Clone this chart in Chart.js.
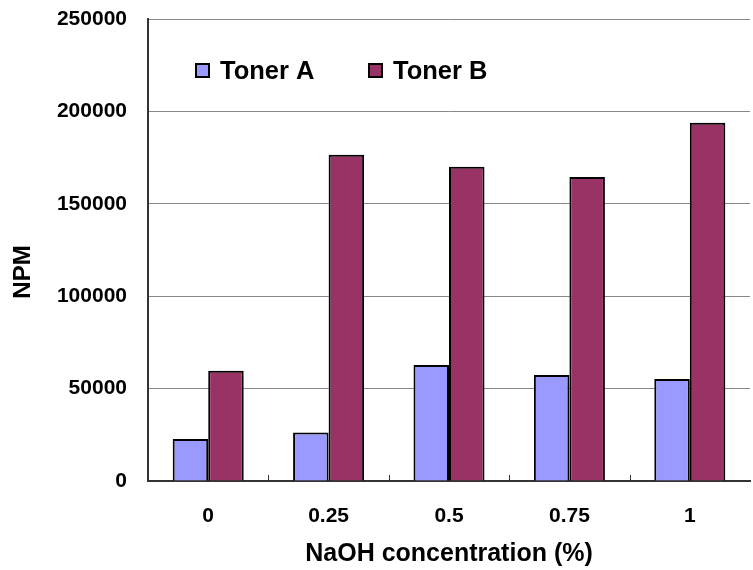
<!DOCTYPE html>
<html>
<head>
<meta charset="utf-8">
<script src="https://cdn.jsdelivr.net/npm/chart.js@4/dist/chart.umd.min.js"></script>
<style>
  html, body { margin: 0; padding: 0; background: #fff; }
  #wrap { width: 753px; height: 570px; }
</style>
</head>
<body>
<div id="wrap"><canvas id="npmChart" width="753" height="570"></canvas></div>
<script>
// NaOH concentration (%) categories
const concentrations = ['0', '0.25', '0.5', '0.75', '1'];
// NPM values
const tonerA = [22700, 26200, 62800, 57400, 55200];
const tonerB = [59700, 176600, 170100, 164500, 193900];
const yTicks = [0, 50000, 100000, 150000, 200000, 250000];

const FONT = "'Liberation Sans', Arial, sans-serif";

// legend drawn inside the plot area, like the original
const insideLegend = {
  id: 'insideLegend',
  afterDraw(chart) {
    const ctx = chart.ctx;
    const spots = [{ box: 196, text: 220 }, { box: 369, text: 393 }];
    ctx.save();
    ctx.font = 'bold 25.5px ' + FONT;
    ctx.textBaseline = 'middle';
    chart.data.datasets.forEach((ds, i) => {
      const s = spots[i];
      ctx.fillStyle = ds.backgroundColor;
      ctx.fillRect(s.box, 64, 13, 13);
      ctx.lineWidth = 2;
      ctx.strokeStyle = '#000';
      ctx.strokeRect(s.box, 64, 13, 13);
      ctx.fillStyle = '#000';
      ctx.fillText(ds.label, s.text, 72);
    });
    ctx.restore();
  }
};

// small inward tick marks between categories on the x axis
const catTicks = {
  id: 'catTicks',
  afterDraw(chart) {
    const x = chart.scales.x;
    const ctx = chart.ctx;
    const y0 = chart.chartArea.bottom;
    ctx.save();
    ctx.strokeStyle = '#333';
    ctx.lineWidth = 1;
    for (let i = 1; i < concentrations.length; i++) {
      const px = Math.round((x.getPixelForTick(i - 1) + x.getPixelForTick(i)) / 2) + 0.5;
      ctx.beginPath();
      ctx.moveTo(px, y0);
      ctx.lineTo(px, y0 - 6);
      ctx.stroke();
    }
    ctx.restore();
  }
};

// y title sits a bit lower than Chart.js would centre it
const yTitle = {
  id: 'yTitle',
  afterDraw(chart) {
    const ctx = chart.ctx;
    ctx.save();
    ctx.translate(23, 272);
    ctx.rotate(-Math.PI / 2);
    ctx.font = 'bold 24px ' + FONT;
    ctx.fillStyle = '#000';
    ctx.textAlign = 'center';
    ctx.textBaseline = 'middle';
    ctx.fillText('NPM', 0, 0);
    ctx.restore();
  }
};

new Chart(document.getElementById('npmChart'), {
  type: 'bar',
  data: {
    labels: concentrations,
    datasets: [
      { label: 'Toner A', data: tonerA, backgroundColor: '#9999FF', borderColor: '#000', borderWidth: 2 },
      { label: 'Toner B', data: tonerB, backgroundColor: '#993366', borderColor: '#000', borderWidth: 2 }
    ]
  },
  options: {
    responsive: false,
    animation: false,
    layout: { padding: { top: 19, right: 3, left: 0, bottom: 0 } },
    datasets: { bar: { barPercentage: 1, categoryPercentage: 0.59 } },
    plugins: { legend: { display: false }, tooltip: { enabled: false } },
    scales: {
      x: {
        grid: { display: false, drawTicks: false },
        border: { color: '#333', width: 2 },
        ticks: { color: '#000', font: { family: FONT, size: 21, weight: 'bold' }, padding: 23 },
        title: {
          display: true, text: 'NaOH concentration (%)', color: '#000',
          font: { family: FONT, size: 25, weight: 'bold' }, padding: { top: 0, bottom: 1 }
        },
        afterFit(scale) { scale.height = 89; }
      },
      y: {
        min: 0, max: 250000,
        afterBuildTicks(scale) { scale.ticks = yTicks.map(v => ({ value: v })); },
        // transparent tick marks give the gap between labels and axis
        grid: { color: '#888', lineWidth: 1, drawTicks: true, tickLength: 21, tickColor: 'rgba(0,0,0,0)' },
        border: { color: '#333', width: 2 },
        ticks: {
          color: '#000', font: { family: FONT, size: 21, weight: 'bold' }, padding: 0,
          callback: v => String(v)
        },
        title: { display: false },
        afterFit(scale) { scale.width = 148; }
      }
    }
  },
  plugins: [insideLegend, catTicks, yTitle]
});
</script>
</body>
</html>
